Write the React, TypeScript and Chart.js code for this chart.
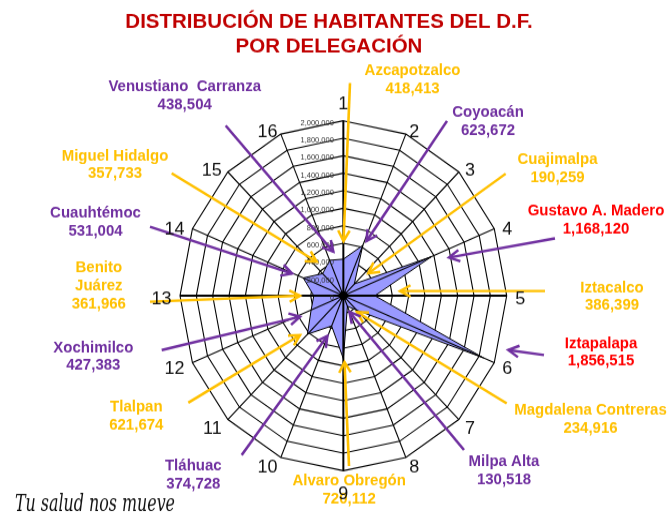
import React, { useEffect, useRef } from "react";
import { Chart, registerables } from "chart.js";

Chart.register(...registerables);

// ---------- DATA ----------
const TITLE_LINES = ["DISTRIBUCIÓN DE HABITANTES DEL D.F.", "POR DELEGACIÓN"];
const AXIS_NUMBERS = ["1", "2", "3", "4", "5", "6", "7", "8", "9", "10", "11", "12", "13", "14", "15", "16"];
const DELEGACIONES = [
  "Azcapotzalco",
  "Coyoacán",
  "Cuajimalpa",
  "Gustavo A. Madero",
  "Iztacalco",
  "Iztapalapa",
  "Magdalena Contreras",
  "Milpa Alta",
  "Alvaro Obregón",
  "Tláhuac",
  "Tlalpan",
  "Xochimilco",
  "Benito Juárez",
  "Cuauhtémoc",
  "Miguel Hidalgo",
  "Venustiano  Carranza",
];
const HABITANTES = [
  418413, 623672, 190259, 1168120, 386399, 1856515, 234916, 130518,
  720112, 374728, 621674, 427383, 361966, 531004, 357733, 438504,
];
const TICK_MIN = 0;
const TICK_MAX = 2000000;
const TICK_STEP = 200000;
const FOOTER = "Tu salud nos mueve";

// ---------- LAYOUT / STYLE ----------
const K = 1.0713; // vertical stretch of the original radar picture
const CANVAS_W = 668;
const CANVAS_H = Math.round(523 / K);
const CENTER_X = 343.35;
const CENTER_Y_PAGE = 295.7;
const RADIUS = 163.35;

const ORANGE = "#FFC000";
const PURPLE = "#7030A0";
const RED = "#FF0000";
const TITLE_RED = "#C00000";
const FONT = "'Liberation Sans', Arial, Helvetica, sans-serif";

type Ann = {
  x: number;
  y: number;
  text: string;
  arrow: string;
  from: [number, number];
  to: [number, number];
  wrap?: boolean;
};

// callout layout (page pixels), one per delegación, same order as the data
const CALLOUTS: Ann[] = [
  { x: 412.5, y: 70, text: ORANGE, arrow: ORANGE, from: [350, 83], to: [343.5, 241] },
  { x: 488, y: 111.7, text: PURPLE, arrow: PURPLE, from: [447, 121], to: [366.5, 241] },
  { x: 557.5, y: 159, text: ORANGE, arrow: ORANGE, from: [505.7, 173.7], to: [368.3, 273.3] },
  { x: 596, y: 210, text: RED, arrow: PURPLE, from: [555, 238.3], to: [449, 257.5] },
  { x: 612, y: 286.7, text: ORANGE, arrow: ORANGE, from: [545, 291], to: [400, 291] },
  { x: 601, y: 342.3, text: RED, arrow: PURPLE, from: [544, 355], to: [508.3, 350] },
  { x: 590.5, y: 409, text: ORANGE, arrow: ORANGE, from: [506.7, 403.3], to: [357, 312] },
  { x: 504, y: 460.7, text: PURPLE, arrow: PURPLE, from: [464, 450], to: [349.5, 312] },
  { x: 349.2, y: 480, text: ORANGE, arrow: ORANGE, from: [349, 466], to: [344.5, 362] },
  { x: 193.3, y: 465, text: PURPLE, arrow: PURPLE, from: [241.7, 455], to: [327.3, 336] },
  { x: 136.3, y: 405.7, text: ORANGE, arrow: ORANGE, from: [188.3, 402.7], to: [300, 335] },
  { x: 93.3, y: 346.7, text: PURPLE, arrow: PURPLE, from: [161.7, 350], to: [300, 316.7] },
  { x: 98.8, y: 266.7, text: ORANGE, arrow: ORANGE, from: [150, 301.7], to: [300, 295.7], wrap: true },
  { x: 95.5, y: 212.3, text: PURPLE, arrow: PURPLE, from: [150, 226.7], to: [292, 273.5] },
  { x: 115, y: 155, text: ORANGE, arrow: ORANGE, from: [171.7, 173.3], to: [316.7, 261.7] },
  { x: 184.7, y: 85.7, text: PURPLE, arrow: PURPLE, from: [225.7, 125.7], to: [333.3, 251.7] },
];

const fmt = (v: number) => v.toLocaleString("en-US");

function drawText(
  ctx: CanvasRenderingContext2D,
  s: string,
  x: number,
  cy: number,
  size: number,
  color: string,
  bold = true,
  align: CanvasTextAlign = "center"
) {
  ctx.font = `${bold ? "bold " : ""}${size}px ${FONT}`;
  ctx.fillStyle = color;
  ctx.textAlign = align;
  ctx.textBaseline = "alphabetic";
  ctx.fillText(s, x, cy + size * 0.358);
}

function drawArrow(ctx: CanvasRenderingContext2D, a: Ann) {
  const [x1, y1] = a.from;
  const [x2, y2] = a.to;
  ctx.strokeStyle = a.arrow;
  ctx.lineWidth = 2.6;
  ctx.lineCap = "butt";
  ctx.lineJoin = "miter";
  ctx.beginPath();
  ctx.moveTo(x1, y1);
  ctx.lineTo(x2, y2);
  ctx.stroke();
  const ang = Math.atan2(y2 - y1, x2 - x1);
  const L = 12;
  const h = 0.5;
  ctx.beginPath();
  ctx.moveTo(x2 - L * Math.cos(ang - h), y2 - L * Math.sin(ang - h));
  ctx.lineTo(x2, y2);
  ctx.lineTo(x2 - L * Math.cos(ang + h), y2 - L * Math.sin(ang + h));
  ctx.stroke();
}

const overlayPlugin = {
  id: "overlay",
  afterDatasetsDraw(chart: any) {
    const scale = chart.scales.r;
    const ctx: CanvasRenderingContext2D = chart.ctx;
    const n = chart.data.labels.length;
    const outer = scale.getDistanceFromCenterForValue(TICK_MAX);
    ctx.save();
    ctx.strokeStyle = "#000";
    for (let i = 0; i < n; i++) {
      const p = scale.getPointPosition(i, outer);
      ctx.lineWidth = i % 4 === 0 ? 2 : 1.1;
      ctx.beginPath();
      ctx.moveTo(scale.xCenter, scale.yCenter);
      ctx.lineTo(p.x, p.y);
      ctx.stroke();
    }
    ctx.restore();
  },
  afterDraw(chart: any) {
    const scale = chart.scales.r;
    const ctx: CanvasRenderingContext2D = chart.ctx;
    ctx.save();
    // work in page pixels (canvas is stretched by K vertically with CSS)
    ctx.scale(1, 1 / K);

    // center dot
    ctx.fillStyle = "#000";
    ctx.beginPath();
    ctx.arc(scale.xCenter, scale.yCenter * K, 4.5, 0, Math.PI * 2);
    ctx.fill();

    // radial tick labels
    scale.ticks.forEach((t: any) => {
      const yy = (scale.yCenter - scale.getDistanceFromCenterForValue(t.value)) * K;
      drawText(ctx, fmt(t.value), scale.xCenter - 9.5, yy + 1.5, 7.5, "#333", false, "right");
    });

    // title
    drawText(ctx, TITLE_LINES[0], 329, 21, 20.5, TITLE_RED);
    drawText(ctx, TITLE_LINES[1], 329, 45.5, 20.5, TITLE_RED);

    // arrows
    CALLOUTS.forEach((a) => drawArrow(ctx, a));

    // callout texts
    CALLOUTS.forEach((a, i) => {
      const lines = a.wrap ? DELEGACIONES[i].split(" ") : [DELEGACIONES[i]];
      lines.push(fmt(HABITANTES[i]));
      lines.forEach((s, j) => drawText(ctx, s, a.x, a.y + j * 18, 15, a.text));
    });

    // axis number labels
    const n = chart.data.labels.length;
    const outer = scale.getDistanceFromCenterForValue(TICK_MAX);
    ctx.font = `18px ${FONT}`;
    for (let i = 0; i < n; i++) {
      const p = scale.getPointPosition(i, outer);
      const vx = p.x;
      const vy = p.y * K;
      const th = (i / n) * Math.PI * 2;
      const s = Math.sin(th);
      const c = Math.cos(th);
      const label = String(chart.data.labels[i]);
      const w = ctx.measureText(label).width;
      let cx: number, cy: number;
      if (Math.abs(s) < 0.01) {
        cx = vx;
        cy = vy - c * 20 + 2.6;
      } else {
        cx = vx + s * 8.6 + Math.sign(s) * (w / 2);
        cy = vy - c * 7 + 2.6;
      }
      drawText(ctx, label, cx, cy, 18, "#111", false);
    }

    // footer
    ctx.font = `italic 24px 'DejaVu Serif', serif`;
    const fw = ctx.measureText(FOOTER).width;
    ctx.save();
    ctx.translate(15, 511);
    ctx.scale(160 / fw, 1);
    ctx.fillStyle = "#111";
    ctx.textAlign = "left";
    ctx.textBaseline = "alphabetic";
    ctx.fillText(FOOTER, 0, 0);
    ctx.restore();

    ctx.restore();
  },
};

export default function App() {
  const ref = useRef<HTMLCanvasElement>(null);
  useEffect(() => {
    if (!ref.current) return;
    const chart = new Chart(ref.current, {
      type: "radar",
      data: {
        labels: AXIS_NUMBERS,
        datasets: [
          {
            label: "Habitantes",
            data: HABITANTES,
            backgroundColor: "#9999FF",
            borderColor: "#000",
            borderWidth: 1,
            pointRadius: 0,
            fill: true,
          },
        ],
      },
      options: {
        responsive: false,
        animation: false,
        devicePixelRatio: 1,
        plugins: {
          legend: { display: false },
          tooltip: { enabled: false },
          title: { display: false },
        },
        elements: { line: { tension: 0 } },
        scales: {
          r: {
            min: TICK_MIN,
            max: TICK_MAX,
            ticks: { display: false, stepSize: TICK_STEP },
            grid: { color: "#000", lineWidth: 1.1, circular: false },
            angleLines: { display: false },
            pointLabels: { display: false },
            afterFit: (s: any) => {
              s.xCenter = CENTER_X;
              s.yCenter = CENTER_Y_PAGE / K;
              s.drawingArea = RADIUS;
            },
          },
        },
      },
      plugins: [overlayPlugin],
    } as any);
    return () => chart.destroy();
  }, []);
  return (
    <div
      style={{
        position: "fixed",
        left: 0,
        top: 0,
        width: 668,
        height: 523,
        overflow: "hidden",
        background: "#fff",
      }}
    >
      <canvas
        ref={ref}
        width={CANVAS_W}
        height={CANVAS_H}
        style={{
          display: "block",
          width: `${CANVAS_W}px`,
          height: `${CANVAS_H}px`,
          transform: `scaleY(${K})`,
          transformOrigin: "0 0",
        }}
      />
    </div>
  );
}
